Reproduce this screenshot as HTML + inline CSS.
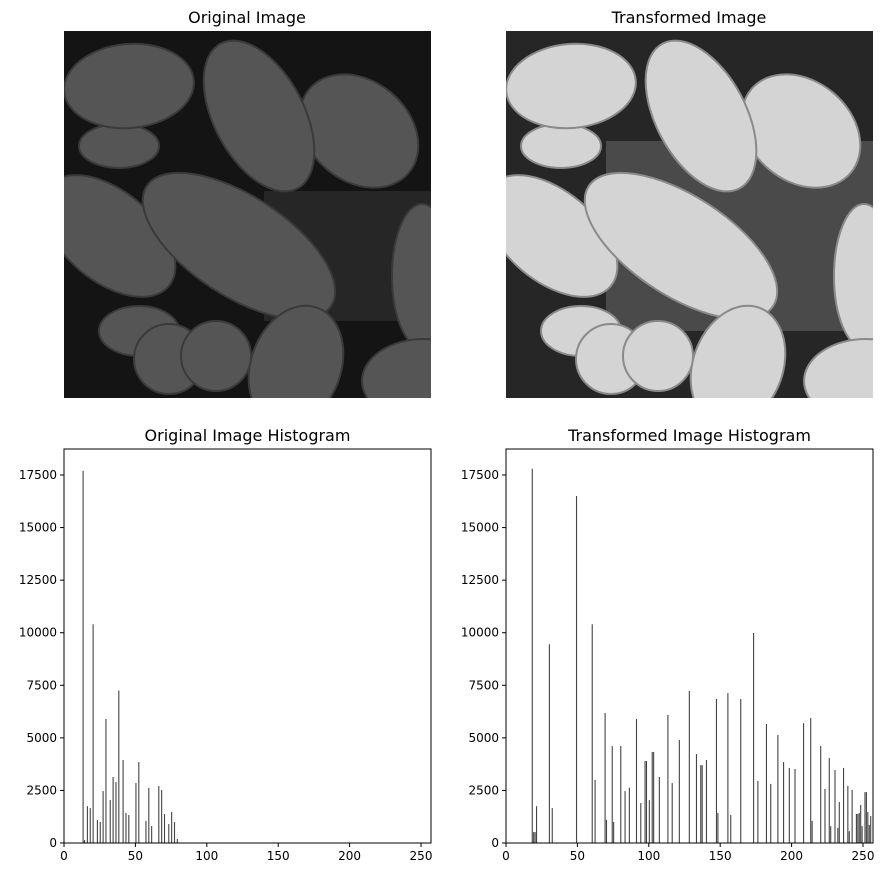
<!DOCTYPE html>
<html><head><meta charset="utf-8"><style>
body{margin:0;background:#fff;width:889px;height:876px;overflow:hidden}
text{font-family:"DejaVu Sans","Liberation Sans",sans-serif;fill:#000}
</style></head><body>
<svg id="fig" width="889" height="876" viewBox="0 0 889 876" xmlns="http://www.w3.org/2000/svg">
<defs>
<g id="pollen">
<ellipse cx="75" cy="300" rx="40" ry="25"/>
<ellipse cx="55" cy="115" rx="40" ry="22"/>
<ellipse cx="65" cy="55" rx="65" ry="42" transform="rotate(-5 65 55)"/>
<ellipse cx="295" cy="100" rx="65" ry="50" transform="rotate(40 295 100)"/>
<ellipse cx="195" cy="85" rx="82" ry="45" transform="rotate(62 195 85)"/>
<ellipse cx="45" cy="205" rx="78" ry="45" transform="rotate(40 45 205)"/>
<ellipse cx="175" cy="215" rx="110" ry="50" transform="rotate(33 175 215)"/>
<ellipse cx="358" cy="245" rx="30" ry="72"/>
<ellipse cx="232" cy="335" rx="45" ry="62" transform="rotate(20 232 335)"/>
<ellipse cx="360" cy="350" rx="62" ry="42"/>
<circle cx="105" cy="328" r="35"/>
<circle cx="152" cy="325" r="35"/>
</g>
</defs>
<g>
<text x="247" y="23" font-size="16" text-anchor="middle">Original Image</text>
<svg x="64" y="31" width="367" height="367" viewBox="0 0 367 367">
<rect width="367" height="367" fill="#141414"/>
<rect x="200" y="160" width="167" height="130" fill="#262626"/>
<use href="#pollen" fill="#555" stroke="#3a3a3a" stroke-width="2"/>
</svg>
</g>
<g>
<text x="689" y="23" font-size="16" text-anchor="middle">Transformed Image</text>
<svg x="506" y="31" width="367" height="367" viewBox="0 0 367 367">
<rect width="367" height="367" fill="#262626"/>
<rect x="100" y="110" width="267" height="190" fill="#4a4a4a"/>
<use href="#pollen" fill="#d4d4d4" stroke="#8a8a8a" stroke-width="2"/>
</svg>
</g>
<g id="h1"></g>
<g id="h2"></g>
</svg>
<script>
const origValues=[13,17700,14,140,16,1750,18,1660,20,10400,23,1100,25,1000,27,2470,29,5900,32,2040,34,3140,36,2900,38,7250,41,3950,43,1430,45,1330,50,2850,52,3850,57,1050,59,2620,61,810,66,2710,68,2520,70,1380,73,900,75,1470,77,1000,79,190];
const transValues=[18,17800,19,520,20,520,21,1750,30,9450,32,1660,49,16500,60,10400,62,3000,69,6180,70,1100,74,4610,75,1000,80,4610,83,2470,86,2630,91,5900,94,1900,97,3900,98,3900,100,2040,102,4330,103,4330,107,3140,113,6090,116,2850,121,4900,128,7230,133,4230,136,3700,137,3700,140,3950,147,6850,148,1430,155,7130,157,1330,164,6850,173,9990,176,2950,182,5660,185,2810,190,5140,194,3850,198,3570,202,3520,208,5700,213,5940,214,1050,220,4610,223,2570,226,4040,227,800,230,3470,232,720,233,1950,236,3570,239,2720,240,560,242,2520,245,1380,246,1380,247,1430,248,1810,249,800,251,2420,252,2420,253,1470,254,860,255,1280];
const xTicks=[0,50,100,150,200,250];
const yTicks=[0,2500,5000,7500,10000,12500,15000,17500];
const NS='http://www.w3.org/2000/svg';
function mk(tag,attrs,parent){const e=document.createElementNS(NS,tag);for(const k in attrs)e.setAttribute(k,attrs[k]);parent.appendChild(e);return e;}
function hist(gid,x0,title,vals){
  const g=document.getElementById(gid);
  const top=449,bot=843,w=367;
  const xs=v=>x0+v*(357/250);
  const ys=c=>bot-c*(368/17500);
  const t=mk('text',{x:x0+w/2,y:441,'font-size':16,'text-anchor':'middle'},g);t.textContent=title;
  
  
  for(let i=0;i<vals.length;i+=2){
    const r=mk('rect',{x:xs(vals[i]),y:ys(vals[i+1]),width:1.1,height:bot-ys(vals[i+1]),fill:'#444'},g);
    
    
  }
  const f=mk('rect',{x:x0,y:top,width:w,height:bot-top,fill:'none',stroke:'#000','stroke-width':1},g);
  
  
  xTicks.forEach(v=>{
    const x=xs(v);
    mk('line',{x1:x,x2:x,y1:bot,y2:bot+4,stroke:'#000'},g);
    const l=mk('text',{x:x,y:bot+17,'font-size':12,'text-anchor':'middle'},g);l.textContent=v;
    
    
  });
  yTicks.forEach(v=>{
    const y=ys(v);
    mk('line',{x1:x0-4,x2:x0,y1:y,y2:y,stroke:'#000'},g);
    const l=mk('text',{x:x0-7,y:y+4,'font-size':12,'text-anchor':'end'},g);l.textContent=v;
    
    
  });
}
hist('h1',64,'Original Image Histogram',origValues);
hist('h2',506,'Transformed Image Histogram',transValues);
</script>
</body></html>
